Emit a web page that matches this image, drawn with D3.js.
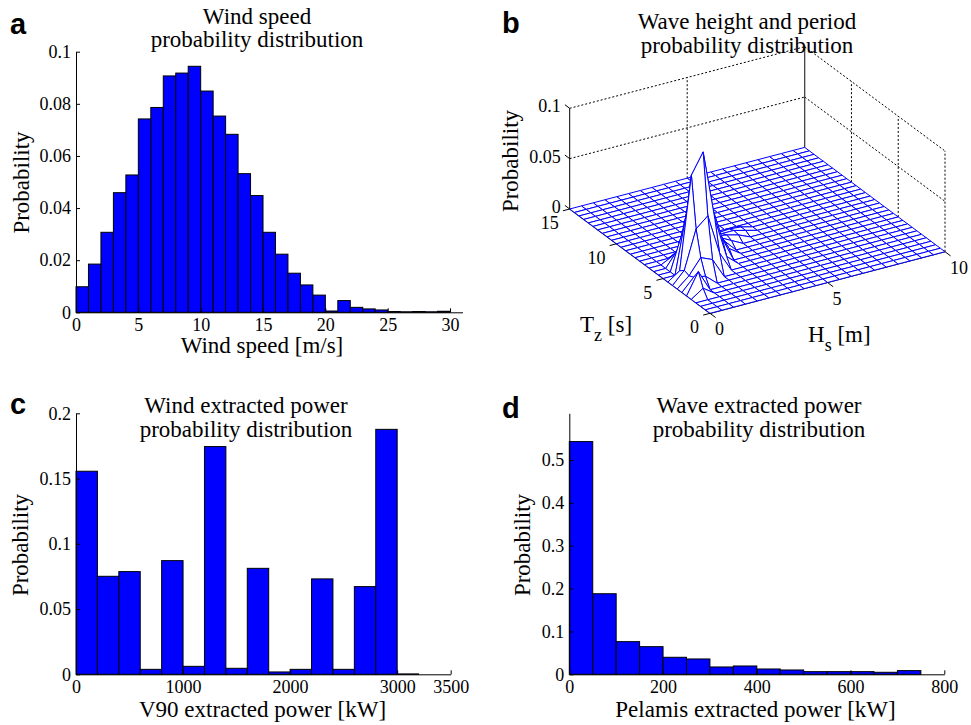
<!DOCTYPE html>
<html>
<head>
<meta charset="utf-8">
<script src="https://cdn.jsdelivr.net/npm/d3@7"></script>
<style>
  html, body { margin: 0; padding: 0; background: #fff; }
  svg { display: block; }
  text { font-family: "Liberation Serif", "Times New Roman", serif; fill: #000; }
  .letter { font-family: "Liberation Sans", Arial, sans-serif; font-weight: bold; font-size: 29px; }
  .tick text { font-size: 18px; }
  .lab { font-size: 23px; }
</style>
</head>
<body>
<div class="container"></div>
<script>
// ---- panel a : wind speed histogram (bin lower edges, 1 m/s wide)
const windBins = [0,1,2,3,4,5,6,7,8,9,10,11,12,13,14,15,16,17,18,19,20,21,22,23,24,25,26,27,28,29];
const windProb = [0.0098,0.0185,0.0307,0.0459,0.0527,0.0742,0.0786,0.0907,0.0918,0.0944,
                  0.0849,0.0753,0.0683,0.0532,0.0448,0.0307,0.0223,0.0150,0.0105,0.0066,
                  0.0005,0.0045,0.0019,0.0013,0.0009,0.0003,0.0002,0.0003,0.0002,0.0004];
const windXTicks = [0,5,10,15,20,25,30];
const windYTicks = [0,0.02,0.04,0.06,0.08,0.1];

// ---- panel c : V90 power histogram (200 kW bins)
const v90Bins = [0,200,400,600,800,1000,1200,1400,1600,1800,2000,2200,2400,2600,2800,3000];
const v90Prob = [0.1556,0.0751,0.0787,0.0038,0.0871,0.0061,0.1745,0.0046,
                 0.0812,0.0018,0.0038,0.0731,0.0038,0.0672,0.1877,0.0003];
const v90XTicks = [0,1000,2000,3000,3500];
const v90YTicks = [0,0.05,0.1,0.15,0.2];

// ---- panel d : Pelamis power histogram (50 kW bins)
const pelBins = [0,50,100,150,200,250,300,350,400,450,500,550,600,650,700];
const pelProb = [0.543,0.188,0.0762,0.0645,0.0397,0.0358,0.0171,0.0194,
                 0.0124,0.0101,0.0062,0.0062,0.0062,0.0047,0.0086];
const pelXTicks = [0,200,400,600,800];
const pelYTicks = [0,0.1,0.2,0.3,0.4,0.5];

// ---- panel b : wave scatter mesh (Hs [m] x Tz [s]); all other nodes are 0
const hsGrid = [0,0.5,1,1.5,2,2.5,3,3.5,4,4.5,5,5.5,6,6.5,7,7.5,8,8.5,9,9.5,10];
const tzGrid = [0,0.5,1,1.5,2,2.5,3,3.5,4,4.5,5,5.5,6,6.5,7,7.5,8,8.5,9,9.5,10,
                10.5,11,11.5,12,12.5,13,13.5,14,14.5,15];
const waveNodes = [
  // [Hs, Tz, probability]
  [0.5, 2.0, 0.008], [0.5, 2.5, 0.021], [0.5, 3.0, 0.012], [0.5, 3.5, 0.010], [0.5, 4.0, 0.012], [0.5, 4.5, 0.008],
  [1.0, 3.0, 0.010], [1.0, 3.5, 0.025], [1.0, 4.0, 0.050], [1.0, 4.5, 0.100], [1.0, 5.0, 0.060], [1.0, 5.5, 0.035],
  [1.0, 6.0, 0.015], [1.0, 6.5, 0.006],
  [1.5, 3.5, 0.020], [1.5, 4.0, 0.060], [1.5, 4.5, 0.120], [1.5, 5.0, 0.095], [1.5, 5.5, 0.060], [1.5, 6.0, 0.035],
  [1.5, 6.5, 0.015], [1.5, 7.0, 0.006],
  [2.0, 4.0, 0.020], [2.0, 4.5, 0.050], [2.0, 5.0, 0.065], [2.0, 5.5, 0.050], [2.0, 6.0, 0.035], [2.0, 6.5, 0.020],
  [2.0, 7.0, 0.010],
  [2.5, 4.5, 0.010], [2.5, 5.0, 0.025], [2.5, 5.5, 0.030], [2.5, 6.0, 0.025], [2.5, 6.5, 0.018], [2.5, 7.0, 0.010],
  [2.5, 7.5, 0.006],
  [3.0, 5.5, 0.008], [3.0, 6.0, 0.012], [3.0, 6.5, 0.012], [3.0, 7.0, 0.010], [3.0, 7.5, 0.006], [3.0, 8.0, 0.004],
  [3.5, 6.5, 0.006], [3.5, 7.0, 0.008], [3.5, 7.5, 0.006], [3.5, 8.0, 0.003],
  [4.0, 7.0, 0.005], [4.0, 7.5, 0.006], [4.0, 8.0, 0.004],
  [4.5, 7.5, 0.003], [4.5, 8.0, 0.003]
];
const hsTicks = [0,5,10];
const tzTicks = [0,5,10,15];
const zTicks = [0,0.05,0.1];

const W = 971, H = 725;
const svg = d3.select('.container').append('svg').attr('width', W).attr('height', H);

const fmt = d => d === 0 ? '0' : String(+d.toFixed(3));

function histPanel(o) {
  const x = d3.scaleLinear().domain(o.xDomain).range(o.xRange);
  const y = d3.scaleLinear().domain(o.yDomain).range(o.yRange);
  const g = svg.append('g');

  g.selectAll('rect')
    .data(o.bins)
    .enter()
    .append('rect')
    .attr('x', (d, i) => x(d))
    .attr('y', (d, i) => y(o.prob[i]))
    .attr('width', (d, i) => x(d + o.width) - x(d))
    .attr('height', (d, i) => y(0) - y(o.prob[i]))
    .attr('fill', '#0000ff')
    .attr('stroke', '#000')
    .attr('stroke-width', 1);

  const xAxis = d3.axisBottom(x).tickValues(o.xTicks).tickFormat(fmt)
    .tickSizeInner(-4).tickSizeOuter(0).tickPadding(6);
  const yAxis = d3.axisLeft(y).tickValues(o.yTicks).tickFormat(fmt)
    .tickSizeInner(-4).tickSizeOuter(0).tickPadding(5);

  g.append('g').attr('transform', 'translate(0,' + o.yRange[0] + ')').call(xAxis);
  g.append('g').attr('transform', 'translate(' + o.xRange[0] + ',0)').call(yAxis);
  g.selectAll('.domain').attr('stroke', '#000');
  g.selectAll('.tick line').attr('stroke', '#000');
  g.selectAll('.tick text').style('font-family', '"Liberation Serif", serif').attr('fill', '#000');

  o.title.forEach((t, i) => {
    g.append('text').attr('class', 'lab')
      .attr('x', o.titleX).attr('y', o.titleY[i])
      .attr('text-anchor', 'middle').text(t);
  });
  g.append('text').attr('class', 'lab')
    .attr('x', o.xLabelX).attr('y', o.xLabelY)
    .attr('text-anchor', 'middle').text(o.xLabel);
  g.append('text').attr('class', 'lab')
    .attr('transform', 'translate(' + o.yLabelX + ',' + o.yLabelY + ') rotate(-90)')
    .attr('text-anchor', 'middle').text('Probability');
}

histPanel({
  bins: windBins, prob: windProb, width: 1,
  xDomain: [0, 31], xRange: [76, 462.5], yDomain: [0, 0.1], yRange: [312.3, 51.7],
  xTicks: windXTicks, yTicks: windYTicks,
  title: ['Wind speed', 'probability distribution'], titleX: 257, titleY: [24, 47.3],
  xLabel: 'Wind speed [m/s]', xLabelX: 262, xLabelY: 353.3, yLabelX: 28.5, yLabelY: 182.5
});

histPanel({
  bins: v90Bins, prob: v90Prob, width: 200,
  xDomain: [0, 3500], xRange: [76, 450.7], yDomain: [0, 0.2], yRange: [674.3, 413.3],
  xTicks: v90XTicks, yTicks: v90YTicks,
  title: ['Wind extracted power', 'probability distribution'], titleX: 246, titleY: [413.3, 437.3],
  xLabel: 'V90 extracted power [kW]', xLabelX: 262.5, xLabelY: 716.7, yLabelX: 28, yLabelY: 545
});

histPanel({
  bins: pelBins, prob: pelProb, width: 50,
  xDomain: [0, 800], xRange: [569.3, 944.3], yDomain: [0, 0.609], yRange: [674.3, 413.3],
  xTicks: pelXTicks, yTicks: pelYTicks,
  title: ['Wave extracted power', 'probability distribution'], titleX: 759, titleY: [413.3, 437.3],
  xLabel: 'Pelamis extracted power [kW]', xLabelX: 755.5, xLabelY: 716.7, yLabelX: 529.5, yLabelY: 545
});

// ---- panel b : 3D mesh, orthographic projection
const F = [710, 313.3];   // Hs=0, Tz=0
const R = [945, 251.7];   // Hs=10, Tz=0
const L = [569.7, 209];   // Hs=0, Tz=15
const bHs = d3.scaleLinear().domain([0, 10]).range([0, 1]);
const bTz = d3.scaleLinear().domain([0, 15]).range([0, 1]);
const bZ = d3.scaleLinear().domain([0, 0.1]).range([0, 100.7]);

function proj(hs, tz, p) {
  const u = bHs(hs), v = bTz(tz);
  return [F[0] + u * (R[0] - F[0]) + v * (L[0] - F[0]),
          F[1] + u * (R[1] - F[1]) + v * (L[1] - F[1]) - bZ(p)];
}

const gb = svg.append('g');
const line = d3.line();

// back wall grid (dotted)
const dotted = (pts) => gb.append('path').attr('d', line(pts))
  .attr('fill', 'none').attr('stroke', '#000').attr('stroke-width', 1).attr('stroke-dasharray', '2,2');
[0.05, 0.1].forEach(z => {
  dotted([proj(0, 15, z), proj(10, 15, z)]);
  dotted([proj(10, 15, z), proj(10, 0, z)]);
});
dotted([proj(5, 15, 0), proj(5, 15, 0.1)]);
[10, 5, 0].forEach(t => dotted([proj(10, t, 0), proj(10, t, 0.1)]));
gb.append('path').attr('d', line([proj(10, 15, 0), proj(10, 15, 0.1)]))
  .attr('stroke', '#333').attr('stroke-width', 1.2);

// axes lines
gb.append('path').attr('d', line([proj(0, 15, 0), proj(0, 15, 0.1)])).attr('stroke', '#000').attr('stroke-width', 1);
gb.append('path').attr('d', line([proj(0, 15, 0), proj(0, 0, 0)])).attr('stroke', '#000').attr('stroke-width', 1.2);
gb.append('path').attr('d', line([proj(0, 0, 0), proj(10, 0, 0)])).attr('stroke', '#000').attr('stroke-width', 1.2);

// mesh matrix
const zMat = hsGrid.map(() => tzGrid.map(() => 0));
waveNodes.forEach(([hs, tz, p]) => {
  zMat[hsGrid.indexOf(hs)][tzGrid.indexOf(tz)] = p;
});
const cells = [];
for (let i = 0; i < hsGrid.length - 1; i++) {
  for (let j = 0; j < tzGrid.length - 1; j++) {
    const pts = [
      proj(hsGrid[i], tzGrid[j], zMat[i][j]),
      proj(hsGrid[i + 1], tzGrid[j], zMat[i + 1][j]),
      proj(hsGrid[i + 1], tzGrid[j + 1], zMat[i + 1][j + 1]),
      proj(hsGrid[i], tzGrid[j + 1], zMat[i][j + 1])
    ];
    const c = proj((hsGrid[i] + hsGrid[i + 1]) / 2, (tzGrid[j] + tzGrid[j + 1]) / 2, 0);
    cells.push({pts: pts, depth: c[1]});
  }
}
cells.sort((a, b) => a.depth - b.depth);
gb.selectAll('.cell')
  .data(cells)
  .enter()
  .append('path')
  .attr('class', 'cell')
  .attr('d', d => line(d.pts) + 'Z')
  .attr('fill', '#fff')
  .attr('stroke', '#0000ff')
  .attr('stroke-width', 1)
  .attr('stroke-linejoin', 'round');

// ticks + labels
const tick = (p, dx, dy) => gb.append('path').attr('d', line([p, [p[0] + dx, p[1] + dy]]))
  .attr('stroke', '#000').attr('stroke-width', 1);
tzTicks.forEach(t => {
  const p = proj(0, t, 0);
  tick(p, -6.8, 1.8);
  gb.append('text').attr('x', p[0] - 11).attr('y', p[1] + 20)
    .attr('text-anchor', 'end').style('font-size', '18px').text(t);
});
hsTicks.forEach(h => {
  const p = proj(h, 0, 0);
  tick(p, 5.6, 4.2);
  gb.append('text').attr('x', p[0] + 5).attr('y', p[1] + 22)
    .attr('text-anchor', 'start').style('font-size', '18px').text(h);
});
zTicks.forEach(z => {
  const p = proj(0, 15, z);
  tick(p, -4.8, -3.6);
  gb.append('text').attr('x', p[0] - 9).attr('y', p[1] + 4)
    .attr('text-anchor', 'end').style('font-size', '18px').text(fmt(z));
});

const tzLab = gb.append('text').attr('class', 'lab').attr('x', 580).attr('y', 331.5);
tzLab.append('tspan').text('T');
tzLab.append('tspan').attr('dy', 9).style('font-size', '18px').text('z');
tzLab.append('tspan').attr('dy', -9).text(' [s]');

const hsLab = gb.append('text').attr('class', 'lab').attr('x', 808).attr('y', 341.5);
hsLab.append('tspan').text('H');
hsLab.append('tspan').attr('dy', 9).style('font-size', '18px').text('s');
hsLab.append('tspan').attr('dy', -9).text(' [m]');

['Wave height and period', 'probability distribution'].forEach((t, i) => {
  gb.append('text').attr('class', 'lab').attr('x', 747).attr('y', [29.3, 52.7][i])
    .attr('text-anchor', 'middle').text(t);
});
gb.append('text').attr('class', 'lab')
  .attr('transform', 'translate(517.5,161) rotate(-90)')
  .attr('text-anchor', 'middle').text('Probability');

// panel letters
[['a', 10, 34], ['b', 502, 33], ['c', 10, 414], ['d', 502, 418]].forEach(([t, x, y]) => {
  svg.append('text').attr('class', 'letter').attr('x', x).attr('y', y).text(t);
});
</script>
</body>
</html>
